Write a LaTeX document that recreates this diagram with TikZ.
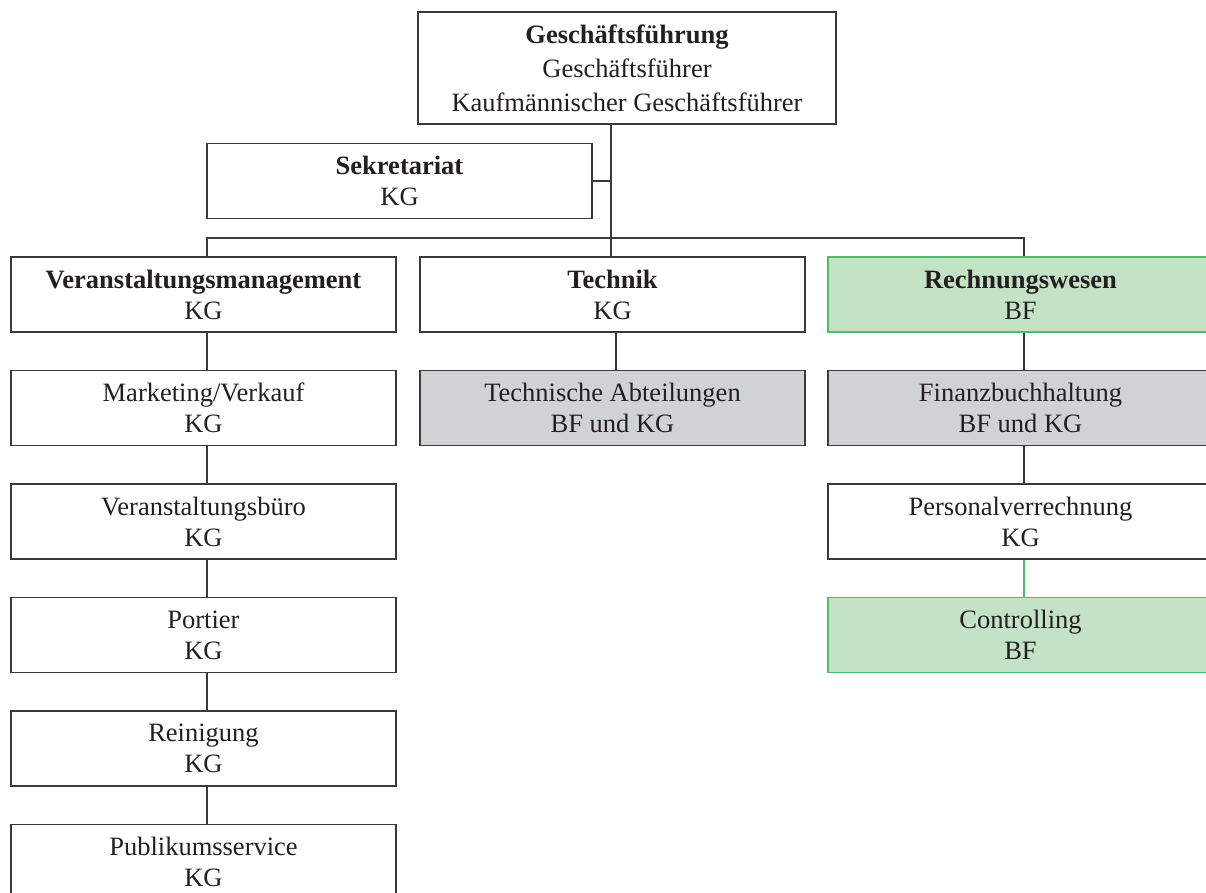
\documentclass[tikz,border=0pt]{standalone}
\usepackage{fontspec}
\setmainfont{Liberation Serif}
\definecolor{linegray}{HTML}{3A3A3A}
\definecolor{textdark}{HTML}{231F20}
\definecolor{boxgreen}{HTML}{4CBB6C}
\definecolor{fillgreen}{HTML}{C4E2C6}
\definecolor{fillgray}{HTML}{D1D2D4}
\begin{document}
\begin{tikzpicture}[x=1pt,y=-1pt,
  orgbox/.style={draw=linegray, line width=1.4pt, fill=white,
    minimum width=385pt, minimum height=75pt, inner sep=0pt,
    align=center, text=textdark, font=\fontsize{26.5}{31}\selectfont},
  greenbox/.style={orgbox, draw=boxgreen, fill=fillgreen},
  graybox/.style={orgbox, fill=fillgray},
  link/.style={draw=linegray, line width=1.4pt},
  greenlink/.style={draw=boxgreen, line width=1.4pt}]
\useasboundingbox (0,0) rectangle (1206,893);
\clip (0,0) rectangle (1206,893);

% management and staff
\node[orgbox, minimum width=418pt, minimum height=112pt,
      font=\fontsize{26.5}{34}\selectfont] (gf) at (627,68)
  {\textbf{Geschäftsführung}\\Geschäftsführer\\Kaufmännischer Geschäftsführer};
\node[orgbox] (sek) at (399.5,181) {\textbf{Sekretariat}\\KG};

% departments
\node[orgbox]   (vm)   at (203.5,294.5) {\textbf{Veranstaltungsmanagement}\\KG};
\node[orgbox]   (tech) at (612.5,294.5) {\textbf{Technik}\\KG};
\node[greenbox] (rw)   at (1020.5,294.5) {\textbf{Rechnungswesen}\\BF};

% units
\node[orgbox]   (mv)   at (203.5,408) {Marketing/Verkauf\\KG};
\node[graybox]  (ta)   at (612.5,408) {Technische Abteilungen\\BF und KG};
\node[graybox]  (fb)   at (1020.5,408) {Finanzbuchhaltung\\BF und KG};

\node[orgbox]   (vb)   at (203.5,521.5) {Veranstaltungsbüro\\KG};
\node[orgbox]   (pv)   at (1020.5,521.5) {Personalverrechnung\\KG};

\node[orgbox]   (po)   at (203.5,635) {Portier\\KG};
\node[greenbox] (co)   at (1020.5,635) {Controlling\\BF};

\node[orgbox]   (rn)   at (203.5,748.5) {Reinigung\\KG};
\node[orgbox]   (ps)   at (203.5,862) {Publikumsservice\\KG};

% connector columns
\coordinate (bus)  at (611,238);
\coordinate (colA) at (207,0);
\coordinate (colB) at (616,0);
\coordinate (colC) at (1024,0);

% trunk, staff link and distribution bus
\draw[link] (gf.south -| bus) -- (tech.north -| bus);
\draw[link] (sek.east) -- (sek.east -| bus);
\draw[link] (vm.north -| colA) -- (colA |- bus) -- (colC |- bus) -- (rw.north -| colC);

% left column
\draw[link] (vm.south -| colA) -- (mv.north -| colA);
\draw[link] (mv.south -| colA) -- (vb.north -| colA);
\draw[link] (vb.south -| colA) -- (po.north -| colA);
\draw[link] (po.south -| colA) -- (rn.north -| colA);
\draw[link] (rn.south -| colA) -- (ps.north -| colA);

% middle column
\draw[link] (tech.south -| colB) -- (ta.north -| colB);

% right column
\draw[link] (rw.south -| colC) -- (fb.north -| colC);
\draw[link] (fb.south -| colC) -- (pv.north -| colC);
\draw[greenlink] (pv.south -| colC) -- (co.north -| colC);
\end{tikzpicture}
\end{document}
